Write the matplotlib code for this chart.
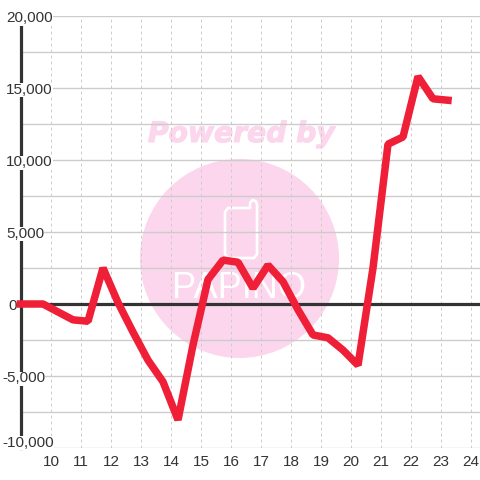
import matplotlib
matplotlib.use("Agg")
import matplotlib.pyplot as plt
import matplotlib.patheffects as pe
from matplotlib.patches import Circle, Polygon
from matplotlib.transforms import ScaledTranslation, Affine2D
from matplotlib.ticker import FuncFormatter

x_values = [9, 9.75, 10.25, 10.75, 11.25, 11.75, 12.25, 12.75, 13.25, 13.75, 14.25, 14.75,
            15.25, 15.75, 16.25, 16.75, 17.25, 17.75, 18.25, 18.75, 19.25, 19.75, 20.25,
            20.75, 21.25, 21.75, 22.25, 22.75, 23.25]
y_values = [0, 0, -550, -1100, -1200, 2500, 100, -1950, -3900, -5400, -8050, -2850,
            1700, 3050, 2900, 1100, 2700, 1550, -400, -2150, -2350, -3200, -4250,
            2500, 11100, 11600, 15800, 14250, 14150]
x_ticks = list(range(10, 25))
y_ticks = [-10000, -5000, 0, 5000, 10000, 15000, 20000]
y_minor = [-7500, -2500, 2500, 7500, 12500, 17500]
phone_outline = [(225, 212), (228, 208), (250, 208), (250, 203), (252.5, 200), (255.5, 201),
                 (257, 204), (257, 254), (254, 258), (228, 258), (225, 254)]

W = 480
fig = plt.figure(figsize=(4.8, 4.8), dpi=100, facecolor="white")
ax = fig.add_axes([20.5/W, 32/W, (W-20.5)/W, 432/W], facecolor="none")
ax.set_xlim(9, 9 + (W-20.5)/30)
ax.set_ylim(-10000, 20000)

PINK = "#fbd6ec"
# watermark
px = Affine2D().scale(1, -1).translate(0, W)  # pixel coords, y downward
fig.add_artist(Circle((239.5, 258.5), 99.5, transform=px, fc=PINK, ec="none", zorder=-5))
fig.add_artist(Polygon(phone_outline, closed=True, transform=px, fc="none", ec="white",
                       lw=1.9, joinstyle="round", zorder=-4))
fig.text(241.5/W, 1-134/W, "Powered by", ha="center", va="center", fontsize=20.3,
         fontweight="bold", style="italic", family="DejaVu Sans", color=PINK, zorder=-4,
         path_effects=[pe.withStroke(linewidth=0.8, foreground=PINK)])
fig.text(239.5/W, 1-289/W, "PAPINO", ha="center", va="center", fontsize=26,
         family="Liberation Sans", color="white", zorder=-4)

GRID = "#cccccc"
ax.hlines(y_ticks + y_minor, 9, ax.get_xlim()[1], color=GRID, lw=1.0, zorder=1)
ax.vlines(x_ticks, -10000, 20000, color="#cccccc", lw=0.72, linestyles=(0, (2.8, 3.2)), zorder=1)

for s in ["top", "right", "bottom"]:
    ax.spines[s].set_visible(False)
ax.spines["left"].set_linewidth(2.3)
ax.spines["left"].set_color("#333333")
ax.spines["left"].set_zorder(1.2)
ax.axhline(0, color="#333333", lw=2.3, zorder=2)

ax.set_axisbelow(True)
ax.xaxis.set_zorder(1.5); ax.yaxis.set_zorder(1.5)
ax.set_xticks(x_ticks)
ax.set_yticks(y_ticks)
ax.yaxis.set_major_formatter(FuncFormatter(lambda v, p: f"{int(v):,}"))
ax.tick_params(length=0, pad=0, labelsize=11, labelcolor="#333333", labelfontfamily="Liberation Sans")
ax.tick_params(axis="x", pad=5)

for t in ax.xaxis.get_major_ticks():
    lab = t.label1
    lab.set_transform(lab.get_transform() + ScaledTranslation(0.7/100, -0.5/100, fig.dpi_scale_trans))

lefts = {-10000: 2, -5000: 2, 0: 8, 5000: 6, 10000: 6, 15000: 6, 20000: 6}
ydelta = {-10000: 6.5, 20000: -1, 15000: -1, 10000: -1, 5000: -1, 0: -1, -5000: -1}
for t, v in zip(ax.yaxis.get_major_ticks(), y_ticks):
    lab = t.label1
    lab.set_ha("left")
    lab.set_va("center_baseline")
    lab.set_bbox(dict(fc="white", ec="none", pad=0))
    lab.set_transform(lab.get_transform() + ScaledTranslation((lefts[v]-20.5)/100, ydelta[v]/100, fig.dpi_scale_trans))

ax.plot(x_values, y_values, color="#ef1f38", lw=5.4, zorder=3, clip_on=False,
        solid_capstyle="projecting", solid_joinstyle="bevel")

fig.savefig("out.png", dpi=100)
